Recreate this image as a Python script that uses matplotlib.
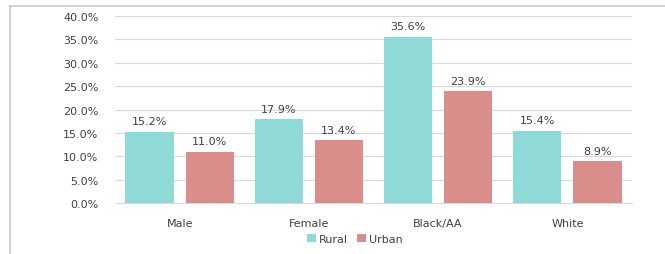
import matplotlib
matplotlib.use("Agg")
import matplotlib.pyplot as plt
from matplotlib.lines import Line2D
from matplotlib.ticker import FuncFormatter
import numpy as np

categories = ["Male", "Female", "Black/AA", "White"]
rural = [15.2, 17.9, 35.6, 15.4]
urban = [11.0, 13.4, 23.9, 8.9]
series_names = ["Rural", "Urban"]
yticks = [0, 5, 10, 15, 20, 25, 30, 35, 40]

rural_color = "#8FDAD7"
urban_color = "#D98E8C"
text_color = "#404040"

fig = plt.figure(figsize=(6.65, 2.55), dpi=100)
fy = 1 - 7/255
fx = 10/665
fig.add_artist(Line2D([fx, 1.01], [fy, fy], transform=fig.transFigure, color="#C8C8C8", linewidth=1.2))
fig.add_artist(Line2D([fx, fx], [-0.01, fy], transform=fig.transFigure, color="#C8C8C8", linewidth=1.2))

ax = fig.add_axes([115/665, 1-204/255, (632-115)/665, (204-17)/255])
x = np.arange(len(categories))
w = 0.372
off = 0.233
b1 = ax.bar(x - off, rural, w, color=rural_color, label=series_names[0], zorder=3)
b2 = ax.bar(x + off, urban, w, color=urban_color, label=series_names[1], zorder=3)
for bars, vals in ((b1, rural), (b2, urban)):
    for r, v in zip(bars, vals):
        ax.text(r.get_x() + r.get_width()/2, v + 1.2, f"{v:.1f}%", ha="center", va="bottom",
                fontsize=8, color=text_color)

ax.set_xlim(-0.5, len(categories) - 0.5)
ax.set_ylim(0, 40)
ax.set_yticks(yticks)
ax.yaxis.set_major_formatter(FuncFormatter(lambda v, p: f"{v:.1f}%"))
ax.set_xticks(x)
ax.set_xticklabels(categories)
ax.tick_params(axis="both", length=0, labelsize=8, colors=text_color)
ax.tick_params(axis="y", pad=12)
ax.tick_params(axis="x", pad=11)
ax.grid(axis="y", color="#D9D9D9", linewidth=0.8, zorder=0)
for s in ["top", "right", "left"]:
    ax.spines[s].set_visible(False)
ax.spines["bottom"].set_color("#D9D9D9")

fig.legend(handles=[b1, b2], labels=series_names, loc="center", bbox_to_anchor=(355/665, 1-240/255),
           ncol=2, frameon=False, fontsize=8, handlelength=0.8, handleheight=0.8,
           handletextpad=0.3, columnspacing=0.8, labelcolor=text_color)

fig.savefig("out.png", dpi=100)
